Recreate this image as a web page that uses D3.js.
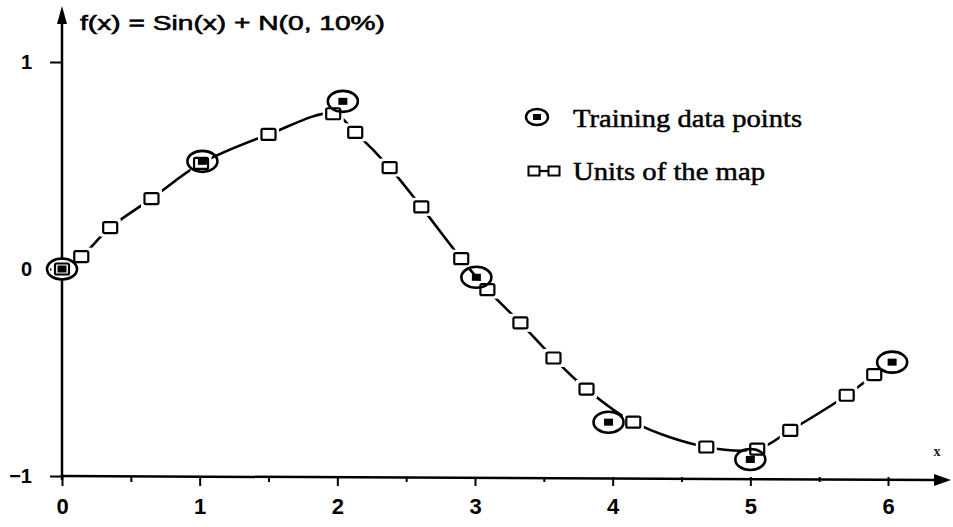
<!DOCTYPE html>
<html>
<head>
<meta charset="utf-8">
<script src="https://cdn.jsdelivr.net/npm/d3@7"></script>
<style>
  html, body { margin: 0; padding: 0; background: #fff; }
  svg { display: block; }
  .tick text { font-family: "Liberation Sans", "DejaVu Sans", sans-serif; }
</style>
</head>
<body>
<svg id="chart" width="953" height="527"></svg>
<script>
// Noisy sine samples used for training
const trainX = [0.00, 1.02, 2.04, 3.01, 3.97, 5.00, 6.03];
const trainY = [0.00, 0.52, 0.81, -0.04, -0.74, -0.92, -0.45];

// Positions of the self-organising map units after training
const unitX = [0.00, 0.14, 0.35, 0.65, 1.01, 1.50, 1.97, 2.13, 2.38, 2.61, 2.90,
               3.09, 3.33, 3.57, 3.81, 4.15, 4.68, 5.05, 5.29, 5.70, 5.90];
const unitY = [0.00, 0.06, 0.20, 0.34, 0.51, 0.65, 0.75, 0.66, 0.49, 0.30, 0.05,
               -0.10, -0.26, -0.43, -0.58, -0.74, -0.86, -0.87, -0.78, -0.61, -0.51];

// Axis ticks
const xTicks = [0, 1, 2, 3, 4, 5, 6];
const xMinorTicks = [0.5, 1.5, 2.5, 3.5, 4.5, 5.5];
const yTicks = [-1, 0, 1];

const titleText = "f(x) = Sin(x) + N(0, 10%)";
const legendLabels = ["Training data points", "Units of the map"];
const legendWidths = [229, 192];

const svg = d3.select("#chart");
const ink = "#000";

const x = d3.scaleLinear().domain([0, 6]).range([62, 888]);
const y = d3.scaleLinear().domain([-1, 1]).range([476, 62]);

// x axis: arrow line plus integer and half ticks
const x0 = y(-1);
svg.append("line")
  .attr("x1", x(0)).attr("y1", x0)
  .attr("x2", 940).attr("y2", x0 + 4)
  .attr("stroke", ink).attr("stroke-width", 2.5);
svg.append("path")
  .attr("d", `M934,${x0 - 2} L951,${x0 + 4} L934,${x0 + 10} Z`)
  .attr("fill", ink);

const xAxis = svg.append("g")
  .attr("transform", `translate(0,${x0 + 1})`)
  .call(d3.axisBottom(x).tickValues(xTicks).tickSize(9).tickPadding(12)
        .tickFormat(d3.format("d")));
xAxis.select(".domain").remove();
xAxis.selectAll(".tick line").attr("stroke", ink).attr("stroke-width", 2);
xAxis.selectAll(".tick text")
  .attr("fill", ink).attr("font-size", 22).attr("font-weight", "bold");

const xMinor = svg.append("g")
  .attr("transform", `translate(0,${x0 + 1})`)
  .call(d3.axisBottom(x).tickValues(xMinorTicks).tickSize(5).tickFormat(""));
xMinor.select(".domain").remove();
xMinor.selectAll(".tick line").attr("stroke", ink).attr("stroke-width", 2);

svg.append("text")
  .attr("x", 937).attr("y", 456)
  .attr("font-family", "Liberation Serif, serif")
  .attr("font-size", 14).attr("font-weight", "bold").attr("fill", "#222")
  .attr("text-anchor", "middle")
  .text("x");

// y axis with an upward arrow
svg.append("line")
  .attr("x1", x(0)).attr("y1", x0 + 4)
  .attr("x2", x(0)).attr("y2", 22)
  .attr("stroke", ink).attr("stroke-width", 2.5);
svg.append("path")
  .attr("d", `M${x(0) - 5},24 L${x(0)},6 L${x(0) + 5},24 Z`)
  .attr("fill", ink);

const yAxis = svg.append("g")
  .attr("transform", `translate(${x(0)},0)`)
  .call(d3.axisLeft(y).tickValues(yTicks).tickSize(12).tickPadding(18)
        .tickFormat(d3.format("d")));
yAxis.select(".domain").remove();
yAxis.selectAll(".tick line").attr("stroke", ink).attr("stroke-width", 2);
yAxis.selectAll(".tick text")
  .attr("fill", ink).attr("font-size", 20).attr("font-weight", "bold");

// Title next to the y axis arrow
svg.append("text")
  .attr("x", 80).attr("y", 30)
  .attr("font-family", "Liberation Sans, DejaVu Sans, sans-serif")
  .attr("font-size", 21).attr("fill", ink)
  .attr("stroke", ink).attr("stroke-width", 0.6)
  .attr("textLength", 305).attr("lengthAdjust", "spacingAndGlyphs")
  .text(titleText);

// Map units joined by a smooth curve
const units = unitX.map((d, i) => ({ x: d, y: unitY[i] }));
const train = trainX.map((d, i) => ({ x: d, y: trainY[i] }));

const curve = d3.line()
  .x(d => x(d.x)).y(d => y(d.y))
  .curve(d3.curveCatmullRom.alpha(0.5));
svg.append("path")
  .datum(units)
  .attr("d", curve)
  .attr("fill", "none")
  .attr("stroke", ink).attr("stroke-width", 2.6);

const uw = 14, uh = 11;
// white halo so the curve stops short of each unit box
svg.append("g").selectAll("rect")
  .data(units).join("rect")
  .attr("x", d => x(d.x) - uw / 2).attr("y", d => y(d.y) - uh / 2)
  .attr("width", uw).attr("height", uh)
  .attr("fill", "#fff").attr("stroke", "#fff").attr("stroke-width", 7);
svg.append("g").selectAll("rect")
  .data(units).join("rect")
  .attr("x", d => x(d.x) - uw / 2).attr("y", d => y(d.y) - uh / 2)
  .attr("width", uw).attr("height", uh).attr("rx", 1.5)
  .attr("fill", "#fff").attr("stroke", ink).attr("stroke-width", 2.2);

// Training samples: a ring with a filled dot
const tg = svg.append("g").selectAll("g")
  .data(train).join("g")
  .attr("transform", d => `translate(${x(d.x)},${y(d.y)})`);
tg.append("ellipse")
  .attr("rx", 15).attr("ry", 10.5)
  .attr("fill", "none").attr("stroke", ink).attr("stroke-width", 2.6);
tg.append("rect")
  .attr("x", -4.5).attr("y", -3.5).attr("width", 9).attr("height", 7)
  .attr("fill", ink);

// Legend
const lg = svg.append("g");
lg.append("ellipse")
  .attr("cx", 537).attr("cy", 117).attr("rx", 11).attr("ry", 8)
  .attr("fill", "none").attr("stroke", ink).attr("stroke-width", 2.4);
lg.append("rect")
  .attr("x", 533).attr("y", 114).attr("width", 8).attr("height", 6)
  .attr("fill", ink);
lg.append("line")
  .attr("x1", 540).attr("y1", 171).attr("x2", 548).attr("y2", 171)
  .attr("stroke", ink).attr("stroke-width", 2.2);
[534, 554].forEach(cx => {
  lg.append("rect")
    .attr("x", cx - 5.5).attr("y", 166.5).attr("width", 11).attr("height", 9)
    .attr("fill", "#fff").attr("stroke", ink).attr("stroke-width", 2);
});
lg.selectAll("text.leg")
  .data(legendLabels).join("text")
  .attr("class", "leg")
  .attr("x", 573).attr("y", (d, i) => 127 + i * 53)
  .attr("font-family", "Liberation Serif, serif")
  .attr("font-size", 26).attr("fill", ink)
  .attr("stroke", ink).attr("stroke-width", 0.5)
  .attr("textLength", (d, i) => legendWidths[i])
  .attr("lengthAdjust", "spacingAndGlyphs")
  .text(d => d);
</script>
</body>
</html>
